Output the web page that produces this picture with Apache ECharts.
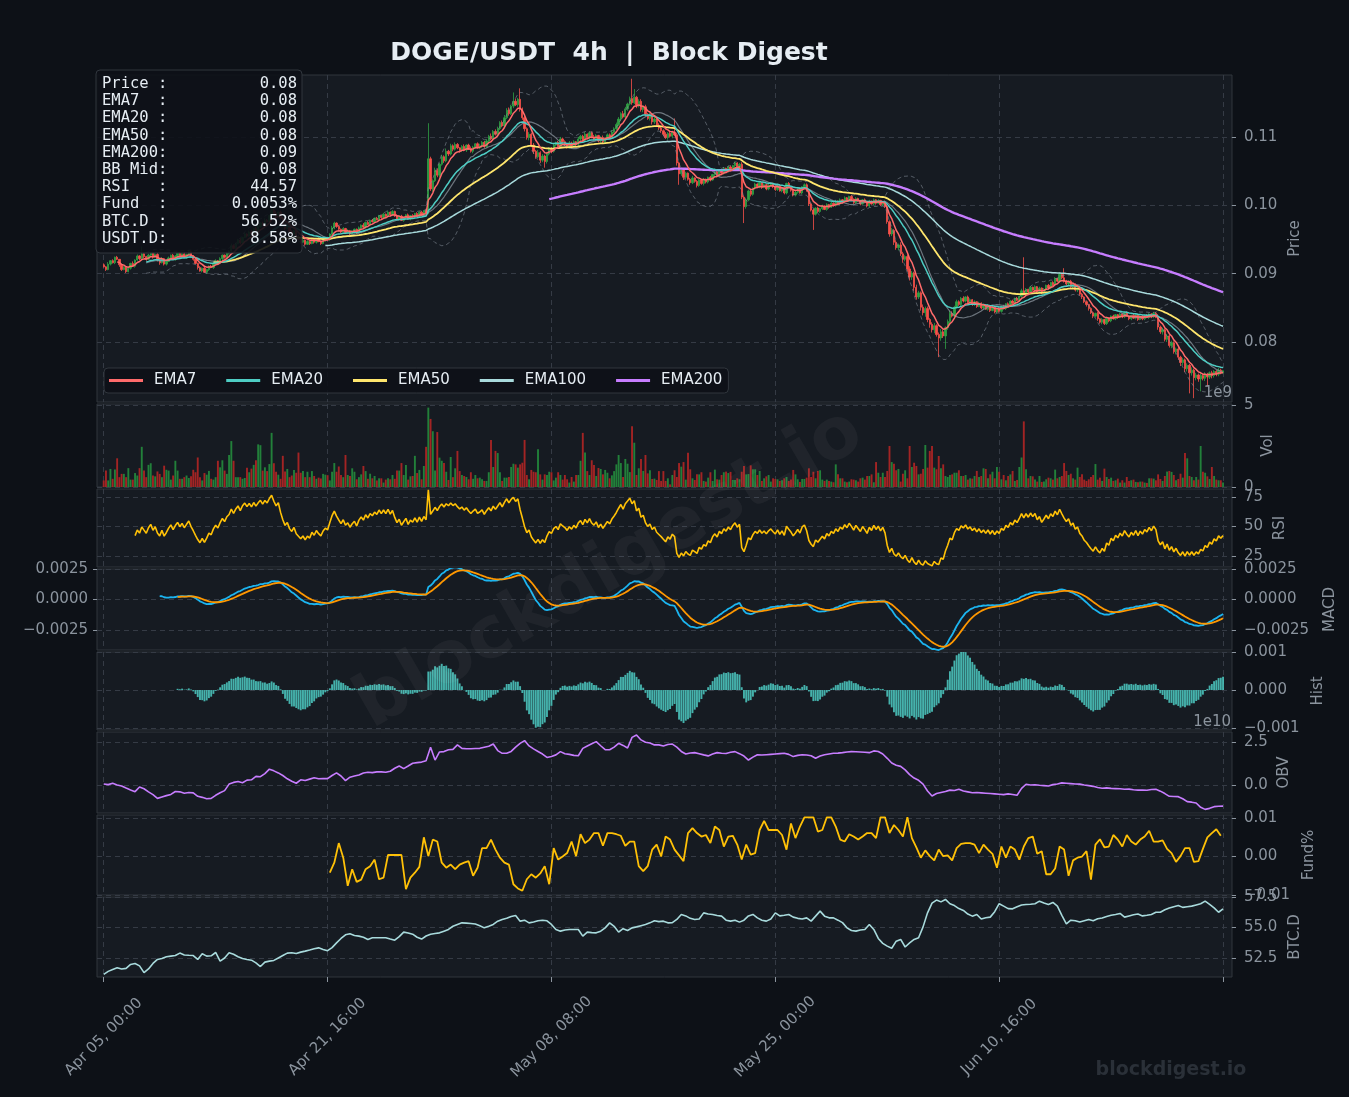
<!DOCTYPE html>
<html>
<head>
<meta charset="utf-8">
<script src="https://cdn.jsdelivr.net/npm/echarts@6/dist/echarts.min.js"></script>
<style>
html,body{margin:0;padding:0;background:#0d1117;}
#chart{width:1349px;height:1097px;}
</style>
</head>
<body>
<div id="chart"></div>
<script>
// ---- data (4h bars, Apr 05 00:00 -> Jun 27 08:00) ----
var closes = [
0.0910,0.0906,0.0914,0.0919,0.0916,0.0924,0.0921,0.0913,0.0906,0.0909,
0.0903,0.0908,0.0915,0.0911,0.0920,0.0926,0.0922,0.0929,0.0925,0.0921,
0.0927,0.0931,0.0924,0.0928,0.0920,0.0916,0.0922,0.0914,0.0918,0.0923,
0.0927,0.0921,0.0926,0.0930,0.0925,0.0929,0.0924,0.0928,0.0932,0.0926,
0.0921,0.0915,0.0909,0.0904,0.0908,0.0902,0.0906,0.0911,0.0909,0.0915,
0.0919,0.0916,0.0922,0.0927,0.0924,0.0930,0.0933,0.0941,0.0937,0.0944,
0.0949,0.0945,0.0953,0.0958,0.0955,0.0961,0.0958,0.0966,0.0963,0.0969,
0.0974,0.0971,0.0978,0.0976,0.0985,0.0993,0.0988,0.0984,0.0990,0.0981,
0.0973,0.0966,0.0970,0.0962,0.0958,0.0963,0.0954,0.0950,0.0946,0.0949,
0.0943,0.0947,0.0944,0.0950,0.0946,0.0951,0.0947,0.0944,0.0949,0.0952,
0.0950,0.0958,0.0967,0.0974,0.0969,0.0965,0.0961,0.0966,0.0960,0.0963,
0.0958,0.0962,0.0965,0.0960,0.0967,0.0971,0.0968,0.0975,0.0972,0.0978,
0.0976,0.0981,0.0979,0.0985,0.0982,0.0987,0.0984,0.0990,0.0986,0.0991,
0.0985,0.0980,0.0984,0.0978,0.0982,0.0986,0.0980,0.0985,0.0983,0.0988,
0.0984,0.0990,0.0986,0.0992,0.0989,0.1068,0.1024,0.1036,0.1051,0.1044,
0.1060,0.1071,0.1065,0.1079,0.1075,0.1087,0.1082,0.1089,0.1084,0.1080,
0.1086,0.1081,0.1088,0.1083,0.1079,0.1085,0.1090,0.1084,0.1087,0.1092,
0.1086,0.1094,0.1101,0.1097,0.1108,0.1104,0.1112,0.1121,0.1116,0.1128,
0.1139,0.1134,0.1145,0.1152,0.1147,0.1155,0.1141,0.1128,0.1112,0.1099,
0.1104,0.1088,0.1079,0.1071,0.1077,0.1066,0.1072,0.1064,0.1075,0.1083,
0.1079,0.1088,0.1092,0.1086,0.1097,0.1093,0.1090,0.1085,0.1091,0.1087,
0.1093,0.1089,0.1097,0.1101,0.1095,0.1104,0.1099,0.1106,0.1100,0.1097,
0.1102,0.1094,0.1099,0.1093,0.1098,0.1103,0.1100,0.1107,0.1112,0.1118,
0.1126,0.1134,0.1129,0.1141,0.1148,0.1156,0.1150,0.1158,0.1146,0.1152,
0.1140,0.1144,0.1133,0.1127,0.1131,0.1122,0.1126,0.1117,0.1113,0.1109,
0.1104,0.1099,0.1105,0.1101,0.1107,0.1103,0.1062,0.1046,0.1052,0.1041,
0.1047,0.1038,0.1033,0.1040,0.1035,0.1029,0.1037,0.1032,0.1038,0.1034,
0.1041,0.1037,0.1045,0.1049,0.1043,0.1051,0.1047,0.1054,0.1050,0.1056,
0.1052,0.1058,0.1062,0.1056,0.1060,0.1012,0.0998,0.1008,0.1021,0.1016,
0.1025,0.1031,0.1027,0.1033,0.1026,0.1030,0.1024,0.1029,0.1032,0.1027,
0.1023,0.1029,0.1021,0.1026,0.1018,0.1032,0.1027,0.1022,0.1015,0.1019,
0.1024,0.1018,0.1027,0.1030,0.1021,0.1002,0.0993,0.0987,0.0996,0.0991,
0.0995,0.0999,0.0994,0.1001,0.0997,0.1003,0.1000,0.1006,0.1002,0.1008,
0.1005,0.1011,0.1007,0.1013,0.1009,0.1004,0.1010,0.1006,0.1002,0.1008,
0.1004,0.0999,0.1006,0.1002,0.1008,0.1003,0.1007,0.1001,0.1005,0.0998,
0.0976,0.0958,0.0963,0.0946,0.0938,0.0942,0.0929,0.0921,0.0925,0.0907,
0.0895,0.0901,0.0880,0.0866,0.0872,0.0851,0.0843,0.0849,0.0833,0.0826,
0.0818,0.0824,0.0811,0.0806,0.0815,0.0809,0.0821,0.0830,0.0842,0.0838,
0.0851,0.0859,0.0855,0.0864,0.0860,0.0866,0.0858,0.0862,0.0855,0.0859,
0.0852,0.0857,0.0850,0.0854,0.0848,0.0853,0.0846,0.0851,0.0844,0.0849,
0.0845,0.0852,0.0849,0.0856,0.0853,0.0860,0.0857,0.0864,0.0861,0.0867,
0.0875,0.0870,0.0877,0.0873,0.0880,0.0876,0.0881,0.0874,0.0879,0.0872,
0.0877,0.0883,0.0879,0.0887,0.0884,0.0893,0.0889,0.0899,0.0894,0.0889,
0.0885,0.0889,0.0881,0.0884,0.0876,0.0879,0.0870,0.0866,0.0859,0.0855,
0.0849,0.0843,0.0838,0.0842,0.0834,0.0829,0.0833,0.0827,0.0835,0.0831,
0.0838,0.0834,0.0840,0.0836,0.0841,0.0837,0.0843,0.0838,0.0834,0.0839,
0.0835,0.0840,0.0833,0.0838,0.0834,0.0839,0.0836,0.0841,0.0837,0.0842,
0.0838,0.0822,0.0815,0.0818,0.0804,0.0809,0.0795,0.0799,0.0786,0.0790,
0.0778,0.0770,0.0774,0.0761,0.0766,0.0755,0.0759,0.0748,0.0752,0.0746,
0.0751,0.0747,0.0753,0.0749,0.0755,0.0751,0.0757,0.0753,0.0759,0.0755,0.0758
];
var firstOpen = 0.0913;
// upper / lower wick length per bar, in units of 0.0001
var upperWick = [
2,1,3,1,2,1,2,0,1,2, 1,2,1,3,1,2,1,2,1,1, 2,1,1,2,3,1,2,1,1,2, 1,2,1,1,2,1,3,1,2,1,
1,2,1,2,1,3,1,1,2,1, 2,1,2,1,1,2,1,3,2,1, 2,3,1,2,1,2,3,1,2,2, 1,2,3,2,1,3,2,4,1,2,
2,1,3,1,2,1,2,3,1,2, 1,2,1,2,1,1,2,1,2,1, 2,1,3,2,1,2,1,2,1,2, 1,2,1,1,2,1,3,1,2,1,
2,1,2,1,1,2,1,2,1,2, 1,2,1,2,1,1,2,1,2,1, 2,1,2,1,2,5,3,2,4,3, 2,3,2,4,2,3,2,3,2,1,
2,3,1,2,3,2,1,2,3,2, 2,3,2,4,2,3,3,2,3,4, 3,4,2,3,4,2,3,2,3,2, 3,2,3,2,4,2,3,2,3,2,
2,3,1,2,3,2,2,1,3,2, 2,1,3,2,2,3,1,2,2,3, 2,1,2,3,1,2,2,3,2,3, 3,2,4,3,2,3,4,3,2,3,
3,2,3,2,4,2,3,2,3,2, 2,3,2,3,2,4,3,2,3,2, 2,1,2,3,1,2,2,1,2,1, 1,2,1,2,1,2,1,2,1,2,
2,1,2,1,2,3,2,3,2,2, 1,2,1,2,1,2,1,2,1,1, 2,1,2,1,2,1,2,1,1,2, 1,2,1,2,2,3,2,2,1,2,
1,2,1,2,1,2,1,2,1,2, 1,2,1,1,2,1,2,1,2,1, 2,1,2,1,2,1,2,1,1,2, 3,2,4,2,3,2,4,3,2,3,
4,3,2,4,3,2,4,3,3,2, 3,4,2,3,4,3,2,3,4,3, 2,3,2,2,3,1,2,2,1,2, 1,2,1,2,1,2,1,2,1,1,
2,1,2,1,2,1,2,1,2,1, 3,2,2,1,2,1,2,1,2,1, 2,1,2,1,2,2,1,3,2,2, 2,1,2,1,2,1,2,2,1,2,
1,2,2,1,2,1,2,1,2,1, 1,2,1,1,2,1,1,2,1,1, 2,1,1,2,1,1,2,1,1,2, 2,3,2,3,2,3,2,3,2,2,
3,2,3,2,3,2,4,2,3,2, 3,2,3,2,2,3,2,2,3,2, 1
];
var lowerWick = [
1,2,1,2,1,2,1,3,2,1, 2,1,2,1,2,1,2,1,2,2, 1,2,2,1,2,3,1,2,2,1, 2,1,2,2,1,2,1,2,1,2,
2,1,3,1,2,1,2,2,1,2, 1,2,1,2,2,1,2,1,1,2, 1,2,2,1,2,1,2,2,1,2, 2,1,2,1,3,2,1,2,3,2,
3,2,1,3,2,2,3,1,2,1, 2,1,2,1,2,2,1,2,1,2, 1,2,1,2,2,1,2,1,2,1, 2,1,2,2,1,2,1,2,1,2,
1,2,1,2,2,1,2,1,2,1, 2,1,2,1,2,2,1,2,1,2, 1,2,1,2,1,2,3,4,2,3, 3,2,3,2,3,2,3,2,2,3,
2,2,3,2,2,3,2,1,2,3, 2,2,3,2,3,2,3,2,2,3, 2,3,2,3,2,3,4,3,4,3, 4,3,4,3,2,4,3,2,3,2,
3,2,2,3,2,2,3,2,2,3, 2,3,2,2,3,2,2,3,2,2, 3,2,2,3,2,2,3,2,2,2, 2,3,2,3,3,2,3,2,4,3,
3,4,3,2,3,4,3,2,3,3, 3,2,3,2,3,2,4,3,3,4, 3,2,3,2,2,3,2,2,3,2, 2,2,1,2,2,1,2,2,1,2,
2,1,2,2,1,3,4,3,2,3, 2,2,1,2,2,1,2,2,1,2, 2,2,1,2,2,2,1,2,2,2, 2,1,2,2,1,3,2,3,2,2,
2,2,1,2,2,1,2,2,1,2, 2,1,2,2,1,2,2,1,2,1, 1,2,2,1,2,2,1,2,2,2, 3,4,3,4,3,4,3,5,3,4,
5,4,5,4,3,5,4,6,4,5, 4,5,3,5,4,3,4,3,3,2, 3,2,2,3,2,2,3,2,2,2, 2,1,2,2,1,2,2,1,2,2,
2,2,1,2,2,1,2,2,1,2, 2,2,1,2,2,1,2,2,1,2, 1,2,2,1,2,2,1,2,2,2, 2,2,3,2,2,3,2,3,2,3,
3,2,3,2,3,2,3,2,2,2, 2,1,2,2,1,2,2,1,2,2, 1,2,2,1,2,2,1,2,2,2, 3,4,3,4,3,4,3,4,3,4,
4,5,4,5,4,5,4,5,4,4, 4,3,4,3,3,4,3,3,3,2, 1
];
// notable wick extremes [bar, price]
var highWicks = [[17,0.0940],[145,0.1120],[183,0.1165],[186,0.1171],[236,0.1185],[237,0.1170],[255,0.1127],[411,0.0924],[429,0.0908]];
var lowWicks = [[197,0.1055],[257,0.1030],[286,0.0974],[317,0.0964],[373,0.0778],[376,0.0790],[485,0.0725],[487,0.0718],[490,0.0728],[493,0.0735]];

// volume, billions
var vols = [
0.40,1.00,0.40,1.10,0.50,1.07,1.75,0.60,0.80,0.80,
0.60,1.15,0.45,0.45,0.85,0.70,1.15,2.45,1.00,0.60,
1.35,1.45,0.70,0.65,0.95,0.80,0.60,1.30,1.05,1.00,
0.45,0.70,1.60,1.00,0.50,0.50,0.60,0.70,0.55,0.65,
1.05,0.90,1.80,0.60,0.40,0.85,0.75,0.98,0.50,0.45,
0.60,1.60,1.20,1.63,1.00,0.80,1.95,2.80,1.60,0.60,
0.60,0.60,0.50,0.55,1.17,0.90,1.12,1.35,1.63,2.60,
2.55,1.00,1.20,0.97,1.40,3.30,1.45,0.93,0.75,0.50,
1.90,0.95,1.10,0.60,0.70,1.04,0.87,2.10,0.87,0.97,
0.60,0.93,0.60,0.97,0.67,0.50,0.57,0.52,0.80,0.75,
0.72,0.40,0.93,1.46,0.93,1.25,0.73,0.60,1.95,0.73,
0.67,1.14,0.93,0.47,0.60,0.77,1.28,0.97,0.50,0.81,
0.53,0.67,0.40,0.53,0.53,0.27,0.45,0.53,0.47,0.73,
0.50,1.00,1.00,1.46,0.73,1.34,0.45,0.65,0.67,1.90,
0.85,1.04,0.47,1.28,2.45,4.84,4.15,3.40,1.00,3.35,
1.79,1.60,1.46,0.93,0.43,1.83,0.60,1.14,2.20,0.97,
0.73,0.67,0.61,0.47,0.90,0.50,0.73,0.53,0.57,0.47,
0.37,0.37,0.90,2.87,1.22,2.20,2.07,0.90,0.37,0.57,
0.57,0.61,1.22,1.42,1.38,1.18,1.38,1.48,2.87,0.73,
0.47,1.04,0.93,0.90,2.30,0.77,0.45,0.77,0.73,0.93,
0.90,0.40,0.57,0.90,0.73,0.45,0.73,0.47,0.27,0.61,
0.33,0.73,0.73,1.60,3.30,2.10,0.97,0.73,1.63,1.34,
0.67,1.16,1.10,0.77,1.04,0.87,0.53,0.71,0.97,1.38,
1.95,1.46,0.61,1.71,1.42,0.91,3.70,2.70,0.73,1.14,
1.71,0.98,1.95,0.83,1.02,0.49,0.51,0.43,0.97,0.37,
0.97,0.37,0.53,0.16,0.73,1.02,0.61,1.46,1.24,1.52,
0.45,2.09,1.08,0.53,0.43,0.77,0.77,0.90,0.37,0.33,
0.57,0.90,0.37,1.06,0.47,0.45,0.73,0.90,0.94,0.85,
0.92,0.43,0.43,0.53,0.47,0.93,1.28,0.77,0.79,1.32,
1.08,1.08,0.73,0.98,0.37,0.53,0.65,0.73,0.33,0.53,
0.49,0.47,0.37,0.41,0.53,0.61,0.37,0.45,1.04,0.77,
0.47,0.31,0.49,0.49,0.57,1.14,0.61,0.93,0.53,0.98,
1.02,0.45,0.37,0.45,0.37,0.33,0.29,1.38,0.77,0.53,
0.53,0.33,0.29,0.33,0.47,0.45,0.41,0.33,0.53,0.57,
0.45,0.67,0.67,0.77,0.29,1.52,0.87,0.61,0.87,0.61,
0.98,2.50,1.52,1.42,1.02,1.10,0.33,0.81,1.02,0.53,
2.50,1.22,1.48,1.28,0.77,0.81,1.10,2.56,1.18,2.20,
2.50,1.18,1.08,1.89,1.14,1.38,0.67,0.61,0.73,0.77,
0.87,0.87,1.02,0.67,0.67,0.73,0.45,0.53,0.51,0.67,
0.98,0.61,0.67,1.14,1.10,0.53,0.77,0.93,0.53,1.22,
0.93,0.47,0.73,0.41,0.67,0.77,0.98,0.37,0.43,1.22,
1.80,4.00,1.08,0.53,0.67,0.65,0.45,0.33,0.67,0.31,
0.33,0.47,0.57,0.53,0.45,1.06,0.53,0.61,0.67,1.46,
0.98,0.73,0.81,0.53,0.45,1.18,0.61,0.77,0.45,0.37,
0.47,0.61,0.73,1.40,0.45,0.57,0.37,1.12,0.61,0.49,
0.57,0.37,0.41,0.51,0.27,0.41,0.27,0.61,0.37,0.41,
0.45,0.31,0.29,0.33,0.33,0.27,0.25,0.53,0.53,0.51,
0.41,0.77,0.49,0.37,0.67,0.94,0.98,0.92,0.73,0.41,
0.49,0.81,0.57,2.07,1.75,0.67,0.61,0.41,0.61,0.45,
2.50,0.93,0.87,0.65,0.49,1.22,0.67,0.45,0.41,0.41,
0.27
];

// OBV (1e10), read every 2nd bar from bar 0
var obvStep = 2;
var obv = [
0.06,0.02,0.10,0.00,-0.06,-0.18,-0.29,-0.39,-0.12,-0.22,
-0.40,-0.56,-0.78,-0.70,-0.62,-0.55,-0.38,-0.40,-0.48,-0.44,
-0.46,-0.66,-0.72,-0.80,-0.78,-0.60,-0.45,-0.33,0.05,0.15,
0.20,0.13,0.28,0.30,0.50,0.48,0.66,0.92,0.82,0.70,
0.55,0.36,0.22,0.10,0.30,0.26,0.34,0.42,0.36,0.38,
0.37,0.55,0.70,0.52,0.25,0.45,0.52,0.58,0.70,0.74,
0.72,0.76,0.76,0.74,0.80,0.97,1.10,0.95,1.10,1.26,
1.30,1.33,1.41,2.19,1.45,1.92,1.94,2.05,2.07,2.33,
2.13,2.11,2.11,2.12,2.13,2.19,2.25,2.38,2.00,1.84,
1.84,1.95,2.20,2.42,2.58,2.27,2.10,1.95,1.80,1.60,
1.66,1.75,1.94,1.82,1.78,1.72,1.70,2.13,2.27,2.40,
2.52,2.28,2.05,2.05,2.20,2.42,2.30,2.15,2.77,2.91,
2.62,2.48,2.44,2.33,2.33,2.27,2.35,2.38,2.20,1.95,
1.80,1.86,1.88,1.82,1.75,1.69,1.80,1.88,1.84,1.83,
1.90,1.94,1.82,1.68,1.45,1.62,1.76,1.74,1.76,1.78,
1.80,1.82,1.84,1.78,1.65,1.72,1.76,1.74,1.70,1.55,
1.68,1.76,1.80,1.84,1.85,1.88,1.92,1.94,1.93,1.92,
1.90,1.88,1.98,1.95,1.80,1.55,1.28,1.15,1.08,0.88,
0.60,0.40,0.27,0.05,-0.35,-0.64,-0.50,-0.44,-0.38,-0.30,
-0.32,-0.25,-0.35,-0.40,-0.45,-0.44,-0.46,-0.48,-0.50,-0.52,
-0.54,-0.56,-0.52,-0.55,-0.60,-0.20,0.04,0.00,0.01,-0.02,
-0.04,-0.06,0.02,0.06,0.12,0.10,0.08,0.06,0.05,0.00,
-0.04,-0.08,-0.15,-0.19,-0.17,-0.20,-0.21,-0.22,-0.25,-0.24,
-0.28,-0.30,-0.29,-0.31,-0.26,-0.25,-0.36,-0.50,-0.66,-0.67,
-0.68,-0.80,-0.97,-1.00,-1.05,-1.30,-1.42,-1.36,-1.26,-1.24,
-1.23
];

// funding rate (%), every 2nd bar from bar 101
var fundStart = 101;
var fund = [
-0.0042,-0.0016,0.0035,-0.0003,-0.0076,-0.0033,-0.0066,-0.0060,-0.0033,-0.0025,
-0.0008,-0.0059,-0.0055,0.0004,0.0004,0.0004,0.0004,-0.0085,-0.0055,-0.0042,
-0.0027,0.0050,0.0001,0.0044,0.0039,-0.0016,-0.0029,-0.0021,-0.0033,-0.0021,
-0.0016,-0.0012,-0.0050,-0.0029,0.0022,0.0022,0.0044,0.0018,-0.0003,-0.0016,
-0.0021,-0.0072,-0.0083,-0.0089,-0.0059,-0.0046,-0.0055,-0.0044,-0.0025,-0.0072,
0.0022,-0.0008,0.0000,0.0009,0.0039,0.0001,0.0058,0.0035,0.0044,0.0061,
0.0061,0.0028,0.0061,0.0061,0.0058,0.0054,0.0028,0.0039,0.0039,-0.0025,
-0.0038,-0.0025,0.0018,0.0031,0.0000,0.0052,0.0044,0.0018,0.0003,-0.0012,
0.0061,0.0074,0.0061,0.0052,0.0056,0.0035,0.0078,0.0069,0.0026,0.0052,
0.0054,0.0031,-0.0008,0.0031,0.0005,0.0009,0.0069,0.0093,0.0069,0.0069,
0.0069,0.0056,0.0018,0.0086,0.0048,0.0078,0.0102,0.0102,0.0102,0.0065,
0.0069,0.0102,0.0102,0.0078,0.0044,0.0039,0.0058,0.0052,0.0044,0.0052,
0.0061,0.0061,0.0048,0.0102,0.0102,0.0061,0.0082,0.0069,0.0052,0.0102,
0.0048,0.0024,-0.0003,0.0016,0.0001,-0.0010,0.0018,0.0001,0.0003,-0.0010,
0.0022,0.0033,0.0035,0.0035,0.0031,0.0009,0.0031,0.0018,0.0007,-0.0029,
0.0026,-0.0003,0.0026,0.0018,-0.0008,0.0026,0.0048,0.0052,0.0007,0.0014,
-0.0046,-0.0046,-0.0031,0.0026,0.0018,-0.0050,-0.0010,-0.0003,0.0000,0.0014,
-0.0060,0.0031,0.0045,0.0024,0.0026,0.0056,0.0044,0.0026,0.0056,0.0039,
0.0031,0.0044,0.0052,0.0067,0.0039,0.0039,0.0042,0.0020,0.0009,-0.0014,
0.0001,0.0022,0.0022,-0.0014,-0.0012,0.0020,0.0050,0.0061,0.0071,0.0054
];

// BTC dominance (%), every 2nd bar from bar 0
var btcDom = [
51.15,51.40,51.56,51.70,51.60,51.65,51.97,52.05,51.85,51.30,
51.60,52.05,52.38,52.45,52.60,52.65,52.70,52.90,52.75,52.72,
52.70,52.38,52.85,52.65,52.68,52.95,52.24,52.50,52.93,52.80,
52.60,52.45,52.38,52.32,52.10,51.80,52.16,52.24,52.30,52.50,
52.70,52.90,52.93,52.87,52.98,53.06,53.15,53.25,53.33,53.20,
53.10,53.35,53.74,54.10,54.40,54.48,54.35,54.29,54.20,54.02,
54.16,54.16,54.16,54.16,54.05,53.96,54.25,54.62,54.55,54.45,
54.20,54.05,54.30,54.45,54.51,54.56,54.70,54.84,55.10,55.25,
55.38,55.36,55.33,55.28,55.15,54.97,55.10,55.25,55.52,55.66,
55.75,55.90,55.98,55.52,55.60,55.38,55.45,55.55,55.60,55.55,
55.25,54.84,54.70,54.80,54.84,54.84,54.84,54.29,54.62,54.58,
54.56,54.70,54.97,55.38,55.10,54.62,54.90,54.75,54.97,55.05,
55.15,55.25,55.38,55.55,55.48,55.52,55.38,55.40,55.66,56.07,
55.95,55.75,55.66,55.70,56.20,56.10,56.07,55.98,55.93,55.60,
55.52,55.60,55.44,55.60,55.95,56.07,55.79,55.60,55.52,55.70,
56.20,55.95,56.00,56.07,55.85,55.75,55.70,55.79,55.52,55.93,
56.34,55.93,55.79,55.79,55.60,55.40,54.97,54.75,54.70,54.80,
54.84,55.25,54.84,54.10,53.70,53.47,53.30,53.88,54.02,53.40,
53.74,54.02,54.16,55.05,56.20,57.00,57.25,57.10,57.30,56.95,
56.80,56.55,56.40,56.10,55.93,56.07,55.70,55.80,55.85,56.30,
56.95,56.75,56.55,56.53,56.70,56.85,56.89,56.90,56.95,57.16,
57.00,56.89,57.05,56.75,56.00,55.30,55.60,55.55,55.45,55.55,
55.65,55.55,55.71,55.78,55.90,56.00,56.07,56.15,55.85,55.95,
56.05,56.10,55.95,56.00,56.07,56.25,56.25,56.45,56.60,56.70,
56.80,56.65,56.70,56.75,56.85,56.95,57.16,56.90,56.61,56.25,
56.52
];

var infoRows = [
['Price :','0.08'],['EMA7  :','0.08'],['EMA20 :','0.08'],['EMA50 :','0.08'],
['EMA200:','0.09'],['BB Mid:','0.08'],['RSI   :','44.57'],['Fund  :','0.0053%'],
['BTC.D :','56.52%'],['USDT.D:','8.58%']
];

var priceTicks = [0.08,0.09,0.10,0.11];
var volTicks = [0,5];
var rsiTicks = [25,50,75];
var macdTicks = [-0.0025,0,0.0025];
var histTicks = [-0.001,0,0.001];
var obvTicks = [0,2.5];
var fundTicks = [-0.01,0,0.01];
var btcTicks = [52.5,55,57.5];
var majorBars = [0,100,200,300,400,500];

// ---- helpers ----
var PADL = 3, PADR = 4;
var NB = closes.length;
var cats = [];
for (var k = 0; k < NB + PADL + PADR; k++) cats.push(String(k - PADL));

var MON = ['Jan','Feb','Mar','Apr','May','Jun','Jul','Aug','Sep','Oct','Nov','Dec'];
function barLabel(i){
  var d = new Date(Date.UTC(2025,3,5) + i*4*3600*1000);
  var dd = ('0'+d.getUTCDate()).slice(-2), hh = ('0'+d.getUTCHours()).slice(-2);
  return MON[d.getUTCMonth()] + ' ' + dd + ', ' + hh + ':00';
}
function isMajor(idx){ return majorBars.indexOf(idx - PADL) >= 0; }
function pad(arr){
  var out = [];
  for (var k = 0; k < PADL; k++) out.push(null);
  arr.forEach(function(v){ out.push(v); });
  for (var k = 0; k < PADR; k++) out.push(null);
  return out;
}
function ema(src, n){
  var a = 2/(n+1), e = null, out = [], cnt = 0;
  for (var i = 0; i < src.length; i++){
    var v = src[i];
    if (v === null){ out.push(null); continue; }
    cnt++;
    e = (e === null) ? v : a*v + (1-a)*e;
    out.push(cnt >= n ? e : null);
  }
  return out;
}
function minus(s){ return String(s).replace('-', '\u2212'); }

var ema7 = ema(closes,7), ema20 = ema(closes,20), ema50 = ema(closes,50),
    ema100 = ema(closes,100), ema200 = ema(closes,200);

var bbUp = [], bbLo = [], bbMid = [];
for (var i = 0; i < NB; i++){
  if (i < 19){ bbUp.push(null); bbLo.push(null); bbMid.push(null); continue; }
  var s = 0; for (var j = i-19; j <= i; j++) s += closes[j];
  var m = s/20, q = 0;
  for (var j = i-19; j <= i; j++) q += (closes[j]-m)*(closes[j]-m);
  var sd = Math.sqrt(q/19);
  bbMid.push(m); bbUp.push(m+2*sd); bbLo.push(m-2*sd);
}

var rsi = [null];
var ag = null, al = null;
for (var i = 1; i < NB; i++){
  var d = closes[i]-closes[i-1], g = d > 0 ? d : 0, l = d < 0 ? -d : 0;
  if (ag === null){ ag = g; al = l; } else { ag = ag*13/14 + g/14; al = al*13/14 + l/14; }
  rsi.push(i >= 14 ? (al === 0 ? 100 : 100 - 100/(1+ag/al)) : null);
}

var e12 = ema(closes,12), e26 = ema(closes,26);
var macd = closes.map(function(_, i){ return (e12[i] === null || e26[i] === null) ? null : e12[i]-e26[i]; });
var signal = ema(macd, 9);
var hist = macd.map(function(v, i){ return (v === null || signal[i] === null) ? null : v - signal[i]; });

// candles + volume
var hiMap = {}, loMap = {};
highWicks.forEach(function(w){ hiMap[w[0]] = w[1]; });
lowWicks.forEach(function(w){ loMap[w[0]] = w[1]; });
var UP = '#2ea043', DOWN = '#f85149', VUP = '#22803a', VDOWN = '#a32424';
var candleData = [], volData = [];
for (var i = 0; i < NB; i++){
  var o = i === 0 ? firstOpen : closes[i-1], c = closes[i];
  var hi = Math.max(o,c) + upperWick[i]*0.0001, lo = Math.min(o,c) - lowerWick[i]*0.0001;
  if (hiMap[i] !== undefined) hi = Math.max(hi, hiMap[i]);
  if (loMap[i] !== undefined) lo = Math.min(lo, loMap[i]);
  candleData.push([o, c, lo, hi]);
  volData.push({value: vols[i], itemStyle: {color: c >= o ? VUP : VDOWN}});
}
var candlePadded = pad(candleData).map(function(v){ return v === null ? '-' : v; });

function sparse(arr, start, step){
  return arr.map(function(v, j){ return [start + j*step + PADL, v]; });
}

// ---- layout ----
var LEFT = 97, RIGHT = 1349 - 1232;
var panels = [[75,402],[404,487],[489,567],[569,650],[652,730],[732,813],[815,895],[897,977]];
var ranges = [[0.07124,0.11905],[0,5.06],[15.7,81.8],[-0.00414,0.0025],[-0.00105,0.001],[-1.63,3.08],[-0.0100,0.0108],[50.94,57.5]];
var tickSets = [priceTicks, volTicks, rsiTicks, macdTicks, histTicks, obvTicks, fundTicks, btcTicks];
var fmts = [
  function(v){ return v.toFixed(2); },
  function(v){ return String(Math.round(v)); },
  function(v){ return String(Math.round(v)); },
  function(v){ return minus(v.toFixed(4)); },
  function(v){ return minus(v.toFixed(3)); },
  function(v){ return v.toFixed(1); },
  function(v){ return minus(v.toFixed(2)); },
  function(v){ return v.toFixed(1); }
];
var axisNames = [['Price',1295],['Vol',1268],['RSI',1280],['MACD',1330],['Hist',1318],['OBV',1284],['Fund%',1309],['BTC.D',1295]];

var GRIDC = '#353b45', LABC = '#8b949e', FS = 15;
var grids = [], xAxes = [], yAxes = [];
panels.forEach(function(p, g){
  grids.push({left: LEFT, right: RIGHT, top: p[0], height: p[1]-p[0], show: true,
    backgroundColor: '#161b22', borderColor: '#30363d', borderWidth: 1});
  var last = g === panels.length - 1;
  xAxes.push({type: 'category', gridIndex: g, data: cats, boundaryGap: false,
    axisLine: {show: false},
    axisTick: {show: last, interval: function(idx){ return isMajor(idx); }, length: 5, lineStyle: {color: LABC}},
    axisLabel: {show: last, interval: function(idx){ return isMajor(idx); },
      formatter: function(val){ var i = +val; return (i >= 0 && i <= 400 && i % 100 === 0) ? barLabel(i) : ''; },
      rotate: 45, align: 'center', verticalAlign: 'middle', margin: 60, color: LABC, fontSize: FS, fontFamily: 'DejaVu Sans'},
    splitLine: {show: true, interval: function(idx){ return isMajor(idx); }, lineStyle: {color: GRIDC, type: [5,4], width: 1}}
  });
  yAxes.push({type: 'value', gridIndex: g, position: 'right', min: ranges[g][0], max: ranges[g][1],
    axisLine: {show: false},
    axisTick: {show: true, length: 4, customValues: tickSets[g], lineStyle: {color: LABC}},
    axisLabel: {customValues: tickSets[g], formatter: fmts[g], color: LABC, fontSize: FS, margin: 12, fontFamily: 'DejaVu Sans'},
    splitLine: {show: true, lineStyle: {color: GRIDC, type: [5,4], width: 1}}
  });
});
// left labels for the MACD panel
yAxes.push({type: 'value', gridIndex: 3, position: 'left', min: ranges[3][0], max: ranges[3][1],
  axisLine: {show: false},
  axisTick: {show: true, length: 4, customValues: macdTicks, lineStyle: {color: LABC}},
  axisLabel: {customValues: macdTicks, formatter: fmts[3], color: LABC, fontSize: FS, margin: 9, fontFamily: 'DejaVu Sans'},
  splitLine: {show: false}
});

function line(name, data, g, color, width, extra){
  var s = {name: name, type: 'line', xAxisIndex: g, yAxisIndex: g, data: data, showSymbol: false, symbol: 'none',
    lineStyle: {color: color, width: width}, itemStyle: {color: color}, silent: true};
  for (var key in extra) s[key] = extra[key];
  return s;
}

var series = [
  {name: 'Candles', type: 'candlestick', xAxisIndex: 0, yAxisIndex: 0, data: candlePadded, barWidth: 1.8, silent: true,
   itemStyle: {color: UP, color0: DOWN, borderColor: UP, borderColor0: DOWN, borderWidth: 0.8}},
  line('BBU', pad(bbUp), 0, 'rgba(139,148,158,0.55)', 1, {lineStyle: {color: 'rgba(139,148,158,0.55)', width: 1, type: [4,3]}}),
  line('BBL', pad(bbLo), 0, 'rgba(139,148,158,0.55)', 1, {lineStyle: {color: 'rgba(139,148,158,0.55)', width: 1, type: [4,3]}}),
  line('BBM', pad(bbMid), 0, 'rgba(139,148,158,0.75)', 1.2),
  line('EMA100', pad(ema100), 0, '#a8dadc', 1.5),
  line('EMA200', pad(ema200), 0, '#c77dff', 2.4),
  line('EMA50', pad(ema50), 0, '#ffe66d', 1.8),
  line('EMA20', pad(ema20), 0, '#4ecdc4', 1.5),
  line('EMA7', pad(ema7), 0, '#ff6b6b', 1.5),
  {name: 'Vol', type: 'bar', xAxisIndex: 1, yAxisIndex: 1, data: pad(volData), barWidth: 1.9, silent: true},
  line('RSI', pad(rsi), 2, '#ffc107', 1.6),
  line('MACD', pad(macd), 3, '#1cb5f0', 1.8),
  line('Signal', pad(signal), 3, '#ff9800', 1.8),
  {name: 'Hist', type: 'bar', xAxisIndex: 4, yAxisIndex: 4, data: pad(hist), barWidth: 1.9, silent: true,
   itemStyle: {color: 'rgba(78,205,196,0.85)'}},
  line('OBV', sparse(obv, 0, obvStep), 5, '#c77dff', 1.6),
  line('Fund', sparse(fund, fundStart, 2), 6, '#ffc107', 1.8),
  line('BTC.D', sparse(btcDom, 0, 2), 7, '#a8dadc', 1.6)
];

var graphics = [];
graphics.push({type: 'text', x: 609, y: 53, z: 100, style: {text: 'DOGE/USDT  4h  |  Block Digest',
  font: 'bold 25px "DejaVu Sans"', fill: '#e6edf3', textAlign: 'center', textVerticalAlign: 'middle'}});
graphics.push({type: 'text', x: 610, y: 570, rotation: Math.PI/6, z: 50, silent: true, style: {text: 'blockdigest.io',
  font: 'bold 72px "DejaVu Sans"', fill: 'rgba(255,255,255,0.045)', textAlign: 'center', textVerticalAlign: 'middle'}});
graphics.push({type: 'text', x: 1171, y: 1070, z: 100, style: {text: 'blockdigest.io',
  font: 'bold 19px "DejaVu Sans"', fill: '#2a3038', textAlign: 'center', textVerticalAlign: 'middle'}});
graphics.push({type: 'text', x: 1232, y: 393, z: 100, style: {text: '1e9', font: FS + 'px "DejaVu Sans"', fill: LABC, textAlign: 'right', textVerticalAlign: 'middle'}});
graphics.push({type: 'text', x: 1231, y: 722, z: 100, style: {text: '1e10', font: FS + 'px "DejaVu Sans"', fill: LABC, textAlign: 'right', textVerticalAlign: 'middle'}});
axisNames.forEach(function(a, g){
  var cy = (panels[g][0] + panels[g][1]) / 2;
  graphics.push({type: 'text', x: a[1], y: cy, rotation: Math.PI/2, z: 100, style: {text: a[0],
    font: FS + 'px "DejaVu Sans"', fill: LABC, textAlign: 'center', textVerticalAlign: 'middle'}});
});
graphics.push({type: 'rect', x: 96, y: 70, z: 100, shape: {width: 206, height: 183, r: 4},
  style: {fill: 'rgba(13,17,23,0.9)', stroke: '#30363d', lineWidth: 1}});
infoRows.forEach(function(r, k){
  var y = 84 + k*17.2;
  graphics.push({type: 'text', x: 102, y: y, z: 101, style: {text: r[0], font: '15.5px "DejaVu Sans Mono"', fill: '#e6edf3', textAlign: 'left', textVerticalAlign: 'middle'}});
  graphics.push({type: 'text', x: 297, y: y, z: 101, style: {text: r[1], font: '15.5px "DejaVu Sans Mono"', fill: '#e6edf3', textAlign: 'right', textVerticalAlign: 'middle'}});
});

var chart = echarts.init(document.getElementById('chart'));
chart.setOption({
  backgroundColor: '#0d1117',
  animation: false,
  textStyle: {fontFamily: 'DejaVu Sans'},
  legend: {data: ['EMA7','EMA20','EMA50','EMA100','EMA200'], left: 104, top: 368, icon: 'rect',
    itemWidth: 34, itemHeight: 3, itemGap: 30, padding: [5,6,5,5],
    backgroundColor: 'rgba(13,17,23,0.9)', borderColor: '#30363d', borderWidth: 1, borderRadius: 4,
    textStyle: {color: '#e6edf3', fontSize: 15, padding: [0,0,0,6], fontFamily: 'DejaVu Sans'}},
  grid: grids,
  xAxis: xAxes,
  yAxis: yAxes,
  series: series,
  graphic: graphics
});
</script>
</body>
</html>
